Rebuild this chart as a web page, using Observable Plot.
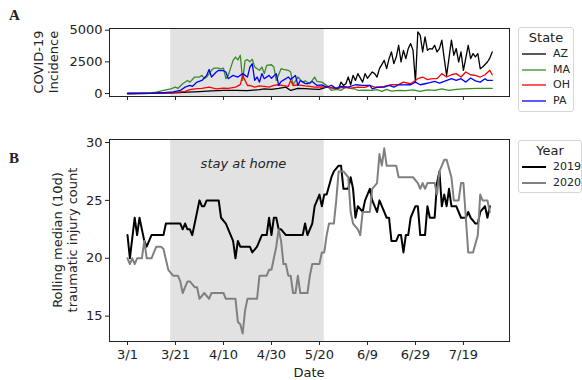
<!DOCTYPE html>
<html>
<head>
<meta charset="utf-8">
<script src="https://cdn.jsdelivr.net/npm/d3@7"></script>
<script src="https://cdn.jsdelivr.net/npm/@observablehq/plot@0.6"></script>
<style>
  html, body { margin: 0; padding: 0; background: #fff; }
  #wrap { position: relative; width: 582px; height: 380px; overflow: hidden; font-family: "DejaVu Sans", sans-serif; color: #222; }
  .abs { position: absolute; }
  .ylab { position: absolute; transform: translate(-50%, -50%) rotate(-90deg); white-space: nowrap; text-align: center; font-size: 13px; line-height: 15px; }
  .panel { position: absolute; font-family: "Liberation Serif", "DejaVu Serif", serif; font-weight: bold; font-size: 15px; }
  .legend { position: absolute; background: #fff; border: 1px solid #d6d6d6; border-radius: 3px; box-sizing: border-box; }
  .ltitle { position: absolute; width: 100%; text-align: center; font-size: 13px; line-height: 16px; }
  .litem { position: absolute; font-size: 11px; white-space: nowrap; }
</style>
</head>
<body>
<div id="wrap"></div>
<script>
// ---------- data ----------
const states = ["AZ", "MA", "OH", "PA"];
const stateColors = ["#000000", "#3a8a26", "#ff0000", "#0000ff"];
const years = ["2019", "2020"];
const yearColors = ["#000000", "#808080"];
const xTickLabels = ["3/1", "3/21", "4/10", "4/30", "5/20", "6/9", "6/29", "7/19"];
const covidTicks = [0, 2500, 5000];
const injuryTicks = [15, 20, 25, 30];
const stayAtHome = ["3/19", "5/22"];

// days since 3/1 and values
const azDay = [0,10,20,25,30,35,40,45,50,55,57,60,63,66,68,71,74,77,80,83,86,88,89,90,91,92,93,94,95,96,98,99,100,102,103,104,105,107,108,109,110,111,112,113,114,115,116,117,118,119,120,121,122,123,124,125,126,127,128,129,130,131,132,133,135,136,137,138,139,140,142,143,144,145,146,147,148,150,151,152];
const azVal = [0,20,60,100,150,200,240,250,230,300,370,320,400,500,240,400,380,350,320,500,420,400,900,640,770,1300,690,1430,1030,1570,900,1570,1200,1700,1570,1300,1960,2620,1960,2750,3280,2360,2880,3810,2490,3410,2750,3550,3940,3410,900,4870,4600,3280,4470,3410,3550,3500,3810,3280,3550,4210,2750,1430,4210,3020,3550,2490,3280,1830,3810,2750,3150,2900,3150,1960,2090,2490,2800,3280];

const maDay = [0,5,10,12,15,18,20,21,23,25,26,28,30,31,32,33,35,36,38,39,40,41,42,44,45,46,47,48,49,50,51,52,53,55,56,57,58,60,61,62,64,65,67,68,69,71,73,74,76,78,79,81,83,85,87,89,91,93,95,96,99,102,104,106,108,110,113,116,119,122,125,128,131,134,137,140,143,146,149,152];
const maVal = [0,10,60,100,240,370,500,400,770,1030,900,1300,1300,1430,1170,1300,1830,2000,2000,1950,2000,1170,1430,2620,2880,2650,3020,1030,2600,2670,2500,2700,2100,1830,2090,1570,2220,2270,2090,1030,1960,1900,1830,1700,690,1300,900,1000,770,1300,950,900,640,240,320,250,500,400,350,240,260,240,300,160,320,190,240,230,280,160,290,240,370,240,320,370,380,400,400,400];

const ohDay = [0,10,18,21,24,26,28,31,34,37,40,42,45,47,48,50,51,53,55,57,59,61,63,65,67,68,69,71,74,76,78,81,84,87,90,93,96,99,101,103,105,107,110,113,115,118,121,123,125,127,129,131,133,135,137,139,141,143,145,147,149,151,152];
const ohVal = [0,10,50,100,160,300,370,400,500,370,420,400,500,700,1430,630,640,500,600,560,500,640,690,620,560,1030,630,680,600,560,500,520,480,400,480,420,500,480,640,500,530,560,690,700,900,770,1170,1300,1100,1170,1170,1570,1300,1480,1570,1300,1700,1480,1430,1300,1480,1830,1480];

const paDay = [0,10,15,19,22,24,26,27,29,31,33,34,35,37,38,40,41,42,43,44,46,48,49,50,51,52,53,54,55,56,57,59,60,62,63,64,66,67,68,70,71,72,74,75,77,79,81,83,85,87,89,92,95,98,101,102,104,107,109,111,113,115,118,120,122,124,126,128,130,132,135,137,139,141,143,145,147,149,150,152];
const paVal = [0,20,60,120,240,500,640,560,900,1030,1430,1900,1300,1700,1830,1800,1700,1170,1300,1430,1300,1570,1430,1300,2090,2350,1030,1300,900,1570,1170,1430,1200,1570,640,950,1170,1300,1100,1430,640,1030,800,770,950,640,680,500,640,400,560,500,690,640,640,370,480,500,640,500,690,680,690,900,690,770,850,950,820,950,1170,1030,1170,900,1220,1000,900,1170,1030,1030];

const y2019Day = [0,1,3,4,5,6,7,8,10,15,16,22,23,24,25,26,27,28,30,31,32,33,38,39,41,42,43,44,45,46,47,51,52,54,55,56,58,59,60,61,62,63,64,66,73,74,75,77,78,80,81,82,83,85,86,88,89,90,92,93,94,95,96,98,99,101,102,104,105,107,108,109,110,112,113,114,115,116,117,118,120,121,122,124,125,126,128,129,130,131,132,133,134,135,137,139,141,142,143,145,146,147,149,150,151];
const y2019Val = [22,20,23.5,22,23.5,22.5,21.5,21,22,22,23,23,22.5,23,22.5,22.5,22,23,25,24.5,24.5,25,25,23.5,23,22.5,22,21.5,20,21.5,21,21,20.5,21,21.5,22,22,23.5,22,23.5,23.5,22.5,22.5,22,22,23,22,23,24.5,25.5,24.5,25.5,25.5,27,27.5,28,28,26,26,27,26,23.5,24.5,24,25,26,25,24,25,24,23.5,23.5,21.5,21.5,22,22,20.5,22,22,23.5,24.5,24.5,22,22,24.5,23.5,23.5,26.5,27.5,24.5,25.5,24.5,26,24.5,24.5,23.5,23.5,24,23.5,23,23,24,24.5,23.5,24.5];

const y2020Day = [0,1,2,3,4,6,7,8,10,11,12,14,15,17,19,21,22,23,25,26,28,29,30,32,34,35,40,41,45,46,47,48,49,50,54,55,58,59,60,61,62,63,64,65,66,67,68,69,70,71,72,75,76,77,80,81,82,83,84,86,87,88,90,92,93,94,96,97,98,101,102,104,105,106,107,108,112,113,119,121,122,123,124,125,128,129,130,132,133,135,136,138,139,140,141,142,144,146,147,148,150,151];
const y2020Val = [20,19.5,20,19.5,20,20,21.5,20,20,20.5,21,21,20.8,19,18.5,18.5,18,17,18,18,17.5,17.5,16.5,17,16.5,17,17,16.5,16.5,14.5,14.3,13.5,15.5,16.5,16.5,18.5,18.5,19,19,20,21,22.5,21.5,19.5,19.5,18.5,18.5,17,17,18.5,17,17,18.5,19.5,19.5,20.5,20.5,22,23,23,25,27.5,27.5,27,24,23,22.5,22,24,24,26,26.5,29,28,29.5,28,28,27,27,26.5,26,26.5,26,26.5,26.5,25.5,27.5,28.5,28.5,27,25,25,26.5,26.5,23.5,20.5,20.5,22,25.5,25,25,24];

// ---------- helpers ----------
const start = Date.UTC(2020, 2, 1);
const day = d => new Date(start + d * 864e5);
const md = s => { const [m, d] = s.split("/").map(Number); return new Date(Date.UTC(2020, m - 1, d)); };
const xTicks = xTickLabels.map(md);
const xDomain = [day(-7.5), day(159.2)];
const shade = [{x1: md(stayAtHome[0]), x2: md(stayAtHome[1])}];

const covidRows = [];
[[azDay, azVal], [maDay, maVal], [ohDay, ohVal], [paDay, paVal]].forEach(([ds, vs], i) => {
  ds.forEach((d, j) => covidRows.push({date: day(d), value: vs[j], state: states[i]}));
});
const injuryRows = [];
[[y2019Day, y2019Val], [y2020Day, y2020Val]].forEach(([ds, vs], i) => {
  ds.forEach((d, j) => injuryRows.push({date: day(d), value: vs[j], year: years[i]}));
});

const wrap = document.getElementById("wrap");
const baseStyle = {fontFamily: "DejaVu Sans, sans-serif", fontSize: "13px", color: "#222", background: "transparent", overflow: "visible"};

// ---------- panel A ----------
const p1 = Plot.plot({
  width: 582, height: 110,
  marginLeft: 109, marginRight: 73, marginTop: 28, marginBottom: 14,
  style: baseStyle,
  x: {type: "utc", domain: xDomain},
  y: {domain: [-238, 5135]},
  color: {domain: states, range: stateColors},
  marks: [
    Plot.rect(shade, {x1: "x1", x2: "x2", fill: "#e2e2e2"}),
    Plot.line(covidRows, {x: "date", y: "value", z: "state", stroke: "state", strokeWidth: 1.3}),
    Plot.frame({stroke: "#222", strokeWidth: 1}),
    Plot.axisX({ticks: xTicks, tickFormat: () => "", tickSize: 4, label: null, stroke: "#222"}),
    Plot.axisY({ticks: covidTicks, tickFormat: d3.format("d"), tickSize: 4, tickPadding: 3, label: null, stroke: "#222"})
  ]
});
p1.style.position = "absolute"; p1.style.left = "0px"; p1.style.top = "0px";
wrap.appendChild(p1);

// ---------- panel B ----------
const p2 = Plot.plot({
  width: 582, height: 270,
  marginLeft: 109, marginRight: 73, marginTop: 29, marginBottom: 39,
  style: baseStyle,
  x: {type: "utc", domain: xDomain},
  y: {domain: [12.81, 30.26]},
  color: {domain: years, range: yearColors},
  marks: [
    Plot.rect(shade, {x1: "x1", x2: "x2", fill: "#e2e2e2"}),
    Plot.text(["stay at home"], {x: md(stayAtHome[0]).getTime() / 2 + md(stayAtHome[1]).getTime() / 2, text: d => d, frameAnchor: "top", dy: 19, dx: -4, fontStyle: "italic", fontSize: 13, fill: "#222"}),
    Plot.line(injuryRows, {x: "date", y: "value", z: "year", stroke: "year", strokeWidth: 2}),
    Plot.frame({stroke: "#222", strokeWidth: 1}),
    Plot.axisX({ticks: xTicks, tickFormat: d3.utcFormat("%-m/%-d"), tickSize: 4, tickPadding: 4, label: null, stroke: "#222"}),
    Plot.axisY({ticks: injuryTicks, tickSize: 4, tickPadding: 3, label: null, stroke: "#222"})
  ]
});
p2.style.position = "absolute"; p2.style.left = "0px"; p2.style.top = "110px";
wrap.appendChild(p2);

// ---------- labels ----------
function addDiv(cls, html, styles) {
  const d = document.createElement("div");
  d.className = cls; d.innerHTML = html;
  Object.assign(d.style, styles);
  wrap.appendChild(d);
  return d;
}
addDiv("panel", "A", {left: "9px", top: "7px"});
addDiv("panel", "B", {left: "9px", top: "150px"});
addDiv("ylab", "COVID-19<br>Incidence", {left: "46px", top: "62px"});
addDiv("ylab", "Rolling median (10d)<br>traumatic injury count", {left: "65px", top: "240px"});
addDiv("abs", "Date", {left: "309px", top: "365px", transform: "translateX(-50%)", fontSize: "13px"});

// ---------- legends ----------
function legend(left, top, width, height, title, names, colors, lw, firstY, step) {
  const box = addDiv("legend", "", {left: left + "px", top: top + "px", width: width + "px", height: height + "px"});
  const t = document.createElement("div");
  t.className = "ltitle"; t.textContent = title; t.style.top = "2px";
  box.appendChild(t);
  names.forEach((n, i) => {
    const cy = firstY + i * step;
    const it = document.createElement("div");
    it.className = "litem";
    it.style.left = "3px"; it.style.top = (cy - 8) + "px"; it.style.height = "16px"; it.style.lineHeight = "16px";
    it.innerHTML = `<svg width="24" height="16" style="vertical-align:top"><line x1="0" x2="24" y1="8" y2="8" stroke="${colors[i]}" stroke-width="${lw}"/></svg><span style="margin-left:7px">${n}</span>`;
    box.appendChild(it);
  });
}
legend(518, 27, 56, 85, "State", states, stateColors, 1.3, 26, 15.7);
legend(518, 140, 64, 53, "Year", years, yearColors, 2, 26, 16.3);
</script>
</body>
</html>
